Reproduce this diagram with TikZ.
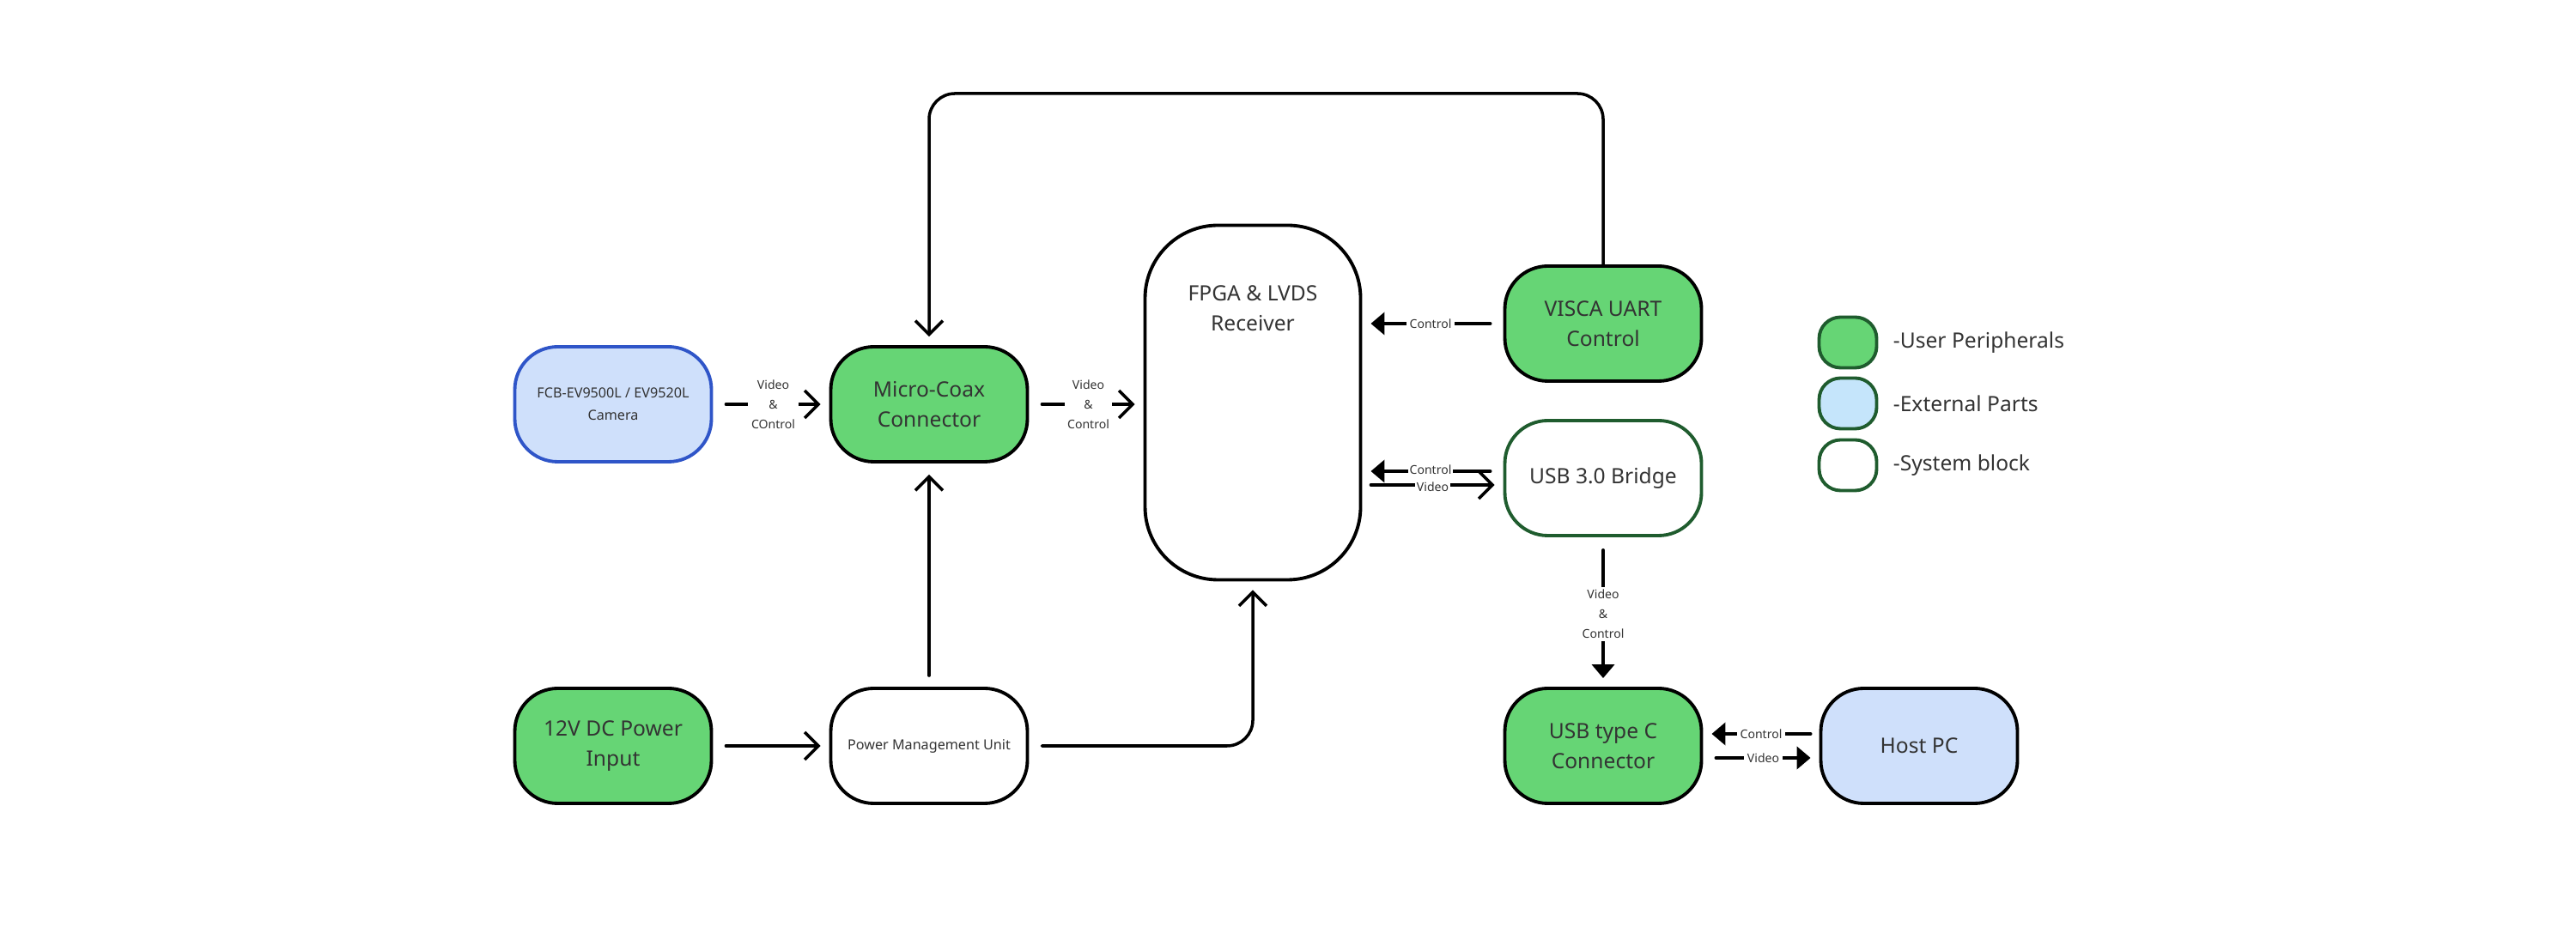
\documentclass[tikz,border=0pt]{standalone}
\usepackage{fontspec}
\setmainfont{Noto Sans}
\usetikzlibrary{arrows.meta,positioning}
\definecolor{peri}{HTML}{66D575}
\definecolor{extpart}{HTML}{CFE0FB}
\definecolor{legblue}{HTML}{C5E5FB}
\definecolor{camblue}{HTML}{2F55C8}
\definecolor{sysgreen}{HTML}{1F5C2E}
\definecolor{txt}{HTML}{333333}
\tikzset{block/.style=
	{draw, line width=1.1pt, rounded corners=0.5cm,
		minimum width=2.29cm, minimum height=1.34cm, align=center,
		text=txt, font=\fontsize{7}{10}\selectfont},
	open arrow/.style={-{Straight Barb[length=1.6mm,width=3.2mm]}, line width=1pt},
	solid arrow/.style={-{Triangle[length=1.6mm,width=2.6mm]}, line width=1.1pt},
	lbl/.style={fill=white, inner sep=1pt, text=txt, align=center,
		font=\fontsize{4}{6.5}\selectfont},
}

\begin{document}
\begin{tikzpicture}[line cap=round,line join=round]
			\useasboundingbox[fill=white] (0,0) rectangle (30,10.8);
			
			\node[block, fill=extpart, draw=camblue, font=\fontsize{4.6}{7.5}\selectfont] (cam) at (7.14,6.09) {FCB-EV9500L / EV9520L\\Camera};
			\node[block, fill=peri] (coax) at (10.82,6.09) {Micro-Coax\\Connector};
			\node[block, fill=white, minimum width=2.51cm, minimum height=4.13cm, rounded corners=0.85cm, text depth=2.2cm] (fpga) at (14.59,6.11) {FPGA \& LVDS\\Receiver};
			\node[block, fill=peri] (visca) at (18.67,7.03) {VISCA UART\\Control};
			\node[block, fill=white, draw=sysgreen] (bridge) at (18.67,5.23) {USB 3.0 Bridge};
			\node[block, fill=peri] (usbc) at (18.67,2.11) {USB type C\\Connector};
			\node[block, fill=extpart] (host) at (22.35,2.11) {Host PC};
			\node[block, fill=peri] (power) at (7.14,2.11) {12V DC Power\\Input};
			\node[block, fill=white, font=\fontsize{4.6}{7}\selectfont] (pmu) at (10.82,2.11) {Power Management Unit};
			
			% legend
			\foreach \c/\y/\t [count=\k] in {peri/6.81/User Peripherals, legblue/6.10/External Parts, white/5.38/System block}{
				\node[draw=sysgreen, fill=\c, line width=1.1pt, rounded corners=0.25cm, minimum width=0.67cm, minimum height=0.59cm] (leg\k) at (21.52,\y) {};
				\node[right=0.05cm of leg\k, text=txt, font=\fontsize{7}{9}\selectfont] (legtext\k) {-\t};}
			
			% camera side
			\draw[open arrow] ([xshift=1.5mm]cam.east) -- node[lbl] {Video\\\&\\COntrol} ([xshift=-1mm]coax.west);
			\draw[open arrow] ([xshift=1.5mm]coax.east) -- node[lbl] {Video\\\&\\Control} ([xshift=-1mm]fpga.west |- coax.east);
			\draw[open arrow] ([xshift=1.5mm]power.east) -- ([xshift=-1mm]pmu.west);
			\draw[open arrow] ([yshift=1.3mm]pmu.north) -- ([yshift=-1.3mm]coax.south);
			\draw[open arrow, rounded corners=0.3cm] ([xshift=1.5mm]pmu.east) -| ([yshift=-1mm]fpga.south);
			\draw[open arrow, rounded corners=0.3cm] (visca.north) |- (10.82,9.71) -- ([yshift=1mm]coax.north);
			
			% right side
			\draw[solid arrow] ([xshift=-1.5mm]visca.west) -- node[lbl] {Control} ([xshift=1mm]fpga.east |- visca.west);
			\coordinate (bc) at ([yshift=0.08cm]bridge.west);
			\coordinate (bv) at ([yshift=-0.08cm]bridge.west);
			\draw[solid arrow] ([xshift=-1.5mm]bc) -- node[lbl, inner sep=0.5pt, yshift=0.02cm] {Control} ([xshift=1mm]fpga.east |- bc);
			\draw[open arrow] ([xshift=1mm]fpga.east |- bv) -- node[lbl, inner sep=0.5pt, yshift=-0.02cm] {Video} ([xshift=-1mm]bv);
			\draw[solid arrow] ([yshift=-1.5mm]bridge.south) -- node[lbl] {Video\\\&\\Control} ([yshift=1mm]usbc.north);
			\coordinate (hc) at ([yshift=0.14cm]host.west);
			\coordinate (hv) at ([yshift=-0.14cm]host.west);
			\draw[solid arrow] ([xshift=-1mm]hc) -- node[lbl] {Control} ([xshift=1mm]usbc.east |- hc);
			\draw[solid arrow] ([xshift=1.5mm]usbc.east |- hv) -- node[lbl] {Video} ([xshift=-1mm]hv);
		\end{tikzpicture}
\end{document}
